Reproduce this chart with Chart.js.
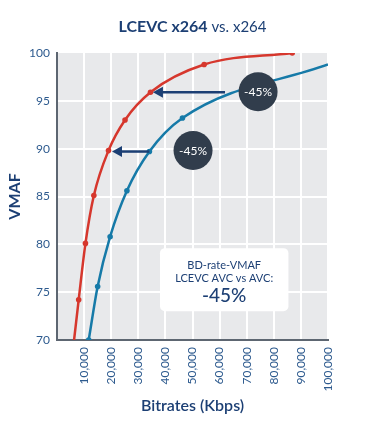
<!DOCTYPE html>
<html>
<head>
<meta charset="utf-8">
<script src="https://cdn.jsdelivr.net/npm/chart.js@4/dist/chart.umd.min.js"></script>
<style>
  html, body { margin: 0; padding: 0; background: #fff; }
  #wrap { width: 377px; height: 422px; }
</style>
</head>
<body>
<div id="wrap"><canvas id="chart" width="377" height="422"></canvas></div>
<script>
// LCEVC x264 curve (bitrate kbps, vmaf)
const lcevcRate = [6300, 8000, 10500, 13600, 19000, 25100, 34500, 54300, 86800];
const lcevcVmaf = [70, 74.2, 80.1, 85.1, 89.8, 93.0, 95.9, 98.8, 100];
const lcevcDots = [0, 1, 1, 1, 1, 1, 1, 1, 1];

// plain x264 curve
const avcRate = [11700, 15000, 19600, 25800, 34100, 46300, 100000];
const avcVmaf = [70, 75.6, 80.8, 85.6, 89.7, 93.2, 98.8];
const avcDots = [1, 1, 1, 1, 1, 1, 0];

const xTicks = [0, 10000, 20000, 30000, 40000, 50000, 60000, 70000, 80000, 90000, 100000];

// arrows between curves (from bitrate -> to bitrate at a vmaf level)
const arrows = [
  { from: 62000, to: 35400, y: 95.9 },
  { from: 34100, to: 20300, y: 89.7 }
];
// "-45%" badges
const badges = [
  { x: 74200, y: 95.95, text: "-45%" },
  { x: 50200, y: 89.8, text: "-45%" }
];
const boxLines = ["BD-rate-VMAF", "LCEVC AVC vs AVC:", "-45%"];

const RED = "#d6372d";
const BLUE = "#167aa8";
const NAVY = "#1c3f74";

function toPts(xs, ys) { return xs.map((x, i) => ({ x: x, y: ys[i] })); }

const decor = {
  id: "decor",
  beforeDraw(chart) {
    const { ctx, chartArea: a } = chart;
    ctx.save();
    ctx.fillStyle = "#e8e9eb";
    ctx.fillRect(a.left, a.top, a.right - a.left, a.bottom - a.top);
    ctx.restore();
  },
  afterDatasetsDraw(chart) {
    const { ctx, scales: { x, y } } = chart;
    ctx.save();
    // arrows
    ctx.strokeStyle = NAVY;
    ctx.fillStyle = NAVY;
    ctx.lineWidth = 2.5;
    arrows.forEach(ar => {
      const x0 = x.getPixelForValue(ar.from), x1 = x.getPixelForValue(ar.to);
      const py = y.getPixelForValue(ar.y);
      ctx.beginPath();
      ctx.moveTo(x0, py);
      ctx.lineTo(x1 + 8, py);
      ctx.stroke();
      ctx.beginPath();
      ctx.moveTo(x1, py);
      ctx.lineTo(x1 + 10, py - 5.5);
      ctx.lineTo(x1 + 10, py + 5.5);
      ctx.closePath();
      ctx.fill();
    });
    // badges
    badges.forEach(b => {
      const cx = x.getPixelForValue(b.x), cy = y.getPixelForValue(b.y);
      ctx.beginPath();
      ctx.arc(cx, cy, 19.5, 0, Math.PI * 2);
      ctx.fillStyle = "#313d4c";
      ctx.fill();
      ctx.fillStyle = "#ffffff";
      ctx.font = "12px Lato";
      ctx.textAlign = "center";
      ctx.textBaseline = "middle";
      ctx.fillText(b.text, cx, cy + 0.5);
    });
    // info box
    const bx0 = x.getPixelForValue(38000), bx1 = x.getPixelForValue(85400);
    const by0 = y.getPixelForValue(79.6), by1 = y.getPixelForValue(73.0);
    ctx.fillStyle = "#ffffff";
    ctx.beginPath();
    ctx.roundRect(bx0, by0, bx1 - bx0, by1 - by0, 5);
    ctx.fill();
    const mid = (bx0 + bx1) / 2;
    ctx.fillStyle = NAVY;
    ctx.textAlign = "center";
    ctx.textBaseline = "middle";
    ctx.font = "11px Lato";
    ctx.fillText(boxLines[0], mid, by0 + 17);
    ctx.fillText(boxLines[1], mid, by0 + 30.5);
    ctx.font = "500 19px Lato";
    ctx.fillText(boxLines[2], mid, by0 + 48);
    ctx.restore();
  },
  afterDraw(chart) {
    const ctx = chart.ctx;
    ctx.save();
    ctx.fillStyle = NAVY;
    ctx.textBaseline = "alphabetic";
    const p1 = "LCEVC x264 ", p2 = "vs. x264";
    ctx.font = "bold 16px Lato";
    const w1 = ctx.measureText(p1).width;
    ctx.font = "15px Lato";
    const w2 = ctx.measureText(p2).width;
    const sx = 192.5 - (w1 + w2) / 2;
    ctx.font = "bold 16px Lato";
    ctx.textAlign = "left";
    ctx.fillText(p1, sx, 32);
    ctx.font = "15px Lato";
    ctx.fillText(p2, sx + w1, 32);
    ctx.restore();
  }
};

new Chart(document.getElementById("chart").getContext("2d"), {
  type: "line",
  data: {
    datasets: [
      {
        label: "LCEVC x264",
        data: toPts(lcevcRate, lcevcVmaf),
        borderColor: RED,
        backgroundColor: RED,
        borderWidth: 2.5,
        pointRadius: lcevcDots.map(d => d * 2.8),
        pointBorderWidth: 0,
        pointHoverRadius: 0,
        cubicInterpolationMode: "monotone"
      },
      {
        label: "x264",
        data: toPts(avcRate, avcVmaf),
        borderColor: BLUE,
        backgroundColor: BLUE,
        borderWidth: 2.5,
        pointRadius: avcDots.map(d => d * 2.8),
        pointBorderWidth: 0,
        pointHoverRadius: 0,
        cubicInterpolationMode: "monotone"
      }
    ]
  },
  options: {
    responsive: false,
    animation: false,
    events: [],
    layout: { padding: { left: 5, top: 53, right: 49, bottom: 3 } },
    plugins: { legend: { display: false }, tooltip: { enabled: false } },
    scales: {
      x: {
        type: "linear",
        min: 0,
        max: 100000,
        afterBuildTicks(s) { s.ticks = xTicks.map(v => ({ value: v })); },
        afterFit(s) { s.height = 79; },
        grid: { color: "#ffffff", lineWidth: 2, drawTicks: false },
        border: { display: true, color: "#5d6671", width: 2 },
        ticks: {
          autoSkip: false,
          minRotation: 90,
          maxRotation: 90,
          padding: 7,
          color: "#2d5a8e",
          font: { family: "Lato", size: 12 },
          callback: v => v === 0 ? "" : v.toLocaleString("en-US")
        },
        title: {
          display: true,
          text: "Bitrates (Kbps)",
          color: NAVY,
          font: { family: "Lato", size: 16, weight: "600" },
          padding: { top: 4, bottom: 4 }
        }
      },
      y: {
        min: 70,
        max: 100,
        afterFit(s) { s.width = 52; },
        grid: {
          color: c => c.tick && c.tick.value === 100 ? "rgba(0,0,0,0)" : "#ffffff",
          lineWidth: 2,
          drawTicks: false
        },
        border: { display: true, color: "#5d6671", width: 2 },
        ticks: {
          stepSize: 5,
          padding: 7,
          color: "#2d5a8e",
          font: { family: "Lato", size: 12 }
        },
        title: {
          display: true,
          text: "VMAF",
          color: NAVY,
          font: { family: "Lato", size: 16, weight: "bold" },
          padding: 0
        }
      }
    }
  },
  plugins: [decor]
});
</script>
</body>
</html>
